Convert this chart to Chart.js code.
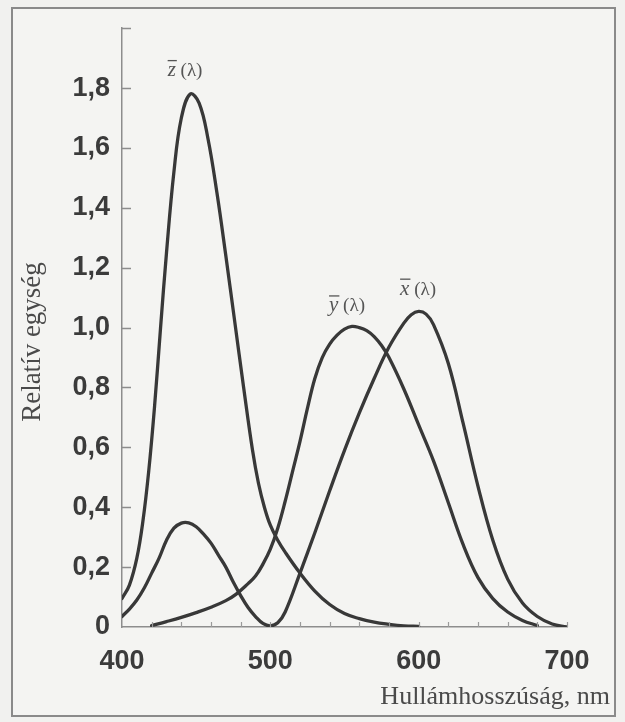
<!DOCTYPE html>
<html>
<head>
<meta charset="utf-8">
<script src="https://cdn.jsdelivr.net/npm/chart.js@4.4.1/dist/chart.umd.min.js"></script>
<style>
html,body{margin:0;padding:0;background:#f1f1ef;}
#wrap{position:relative;width:625px;height:722px;overflow:hidden;}
#frame{position:absolute;left:11px;top:7px;width:605px;height:710px;border:2px solid #8a8a8a;box-sizing:border-box;background:#f4f4f2;}
#c{position:absolute;left:0;top:0;}
</style>
</head>
<body>
<div id="wrap">
  <div id="frame"></div>
  <canvas id="c" width="625" height="722"></canvas>
</div>
<script>
// ---- data ----
const zNm  = [400,405,410,414,418,422,426,430,435,440,446,452,458,464,470,476,482,488,492,496,500,505,510,520,530,540,550,560,570,580,590,600];
const zVal = [0.095,0.14,0.23,0.35,0.52,0.74,1.0,1.25,1.52,1.70,1.78,1.75,1.63,1.45,1.24,1.02,0.80,0.59,0.48,0.40,0.34,0.29,0.25,0.18,0.12,0.075,0.045,0.028,0.016,0.009,0.004,0.002];

const yNm  = [420,430,440,450,460,470,477,485,490,495,500,505,510,515,520,525,530,535,540,545,550,555,560,565,570,575,580,590,600,610,620,630,640,650,660,670,680];
const yVal = [0.005,0.018,0.032,0.048,0.066,0.088,0.11,0.145,0.17,0.21,0.26,0.33,0.42,0.52,0.62,0.73,0.83,0.90,0.945,0.975,0.995,1.004,1.0,0.99,0.97,0.94,0.90,0.795,0.675,0.555,0.415,0.275,0.165,0.095,0.05,0.022,0.005];

const xNm  = [400,405,410,415,420,425,430,435,440,445,450,455,460,465,470,475,480,485,490,495,500,505,510,520,530,540,550,560,570,580,590,595,600,605,610,620,630,640,650,660,670,680,690,700];
const xVal = [0.035,0.06,0.09,0.13,0.18,0.23,0.29,0.33,0.347,0.348,0.335,0.31,0.28,0.24,0.20,0.15,0.105,0.065,0.035,0.012,0.004,0.014,0.05,0.18,0.315,0.455,0.59,0.715,0.83,0.935,1.015,1.043,1.054,1.045,1.01,0.88,0.68,0.47,0.29,0.16,0.08,0.035,0.01,0.0];

const xTickLabels = [400,500,600,700];
const yTickLabels = ['0','0,2','0,4','0,6','0,8','1,0','1,2','1,4','1,6','1,8'];
const curveNames = ['z','y','x'];
const curveLabelAt = [[442.5,1.85],[551.7,1.064],[599.6,1.12]];
const xTitle = 'Hullámhosszúság, nm';
const yTitle = 'Relatív egység';

// ---- chart ----
const ink = '#383838';
const toPts = (nm, v) => nm.map((n, i) => ({x: n, y: v[i]}));
const ds = (nm, v) => ({
  data: toPts(nm, v), borderColor: ink, borderWidth: 3.3, pointRadius: 0,
  tension: 0.4, fill: false, borderCapStyle: 'round', borderJoinStyle: 'round'
});

const decor = {
  id: 'decor',
  afterDatasetsDraw(chart) {
    const {ctx, scales: {x, y}, chartArea: a} = chart;
    ctx.save();
    // inner y ticks
    ctx.strokeStyle = '#8d8d8d'; ctx.lineWidth = 1.5;
    for (let i = 1; i <= 10; i++) {
      const py = Math.round(y.getPixelForValue(i * 0.2)) + 0.5;
      ctx.beginPath(); ctx.moveTo(a.left, py); ctx.lineTo(a.left + 9, py); ctx.stroke();
    }
    // inner x ticks every 20 nm
    ctx.lineWidth = 1.2; ctx.strokeStyle = '#9a9a9a';
    for (let n = 420; n <= 700; n += 20) {
      const px = Math.round(x.getPixelForValue(n)) + 0.5;
      ctx.beginPath(); ctx.moveTo(px, a.bottom); ctx.lineTo(px, a.bottom - 5); ctx.stroke();
    }
    // curve labels
    ctx.fillStyle = '#555';
    ctx.textBaseline = 'alphabetic';
    curveNames.forEach((nm, i) => {
      const cx = x.getPixelForValue(curveLabelAt[i][0]);
      const cy = y.getPixelForValue(curveLabelAt[i][1]);
      ctx.font = 'italic 21px "Liberation Serif"';
      const wl = ctx.measureText(nm).width;
      ctx.font = '19px "Liberation Serif"';
      const wp = ctx.measureText(' (λ)').width;
      const sx = cx - (wl + wp) / 2;
      const base = cy + 3;
      ctx.font = 'italic 21px "Liberation Serif"';
      ctx.fillText(nm, sx, base);
      ctx.font = '19px "Liberation Serif"';
      ctx.fillText(' (λ)', sx + wl, base);
      ctx.strokeStyle = '#555'; ctx.lineWidth = 1.3;
      ctx.beginPath(); ctx.moveTo(sx, base - 15.5); ctx.lineTo(sx + wl + 1, base - 15.5); ctx.stroke();
    });
    // axis titles
    ctx.font = '26px "Liberation Serif"';
    ctx.fillStyle = '#4a4a4a';
    ctx.textAlign = 'right';
    ctx.fillText(xTitle, 610, 704);
    ctx.save();
    ctx.translate(40, 342);
    ctx.rotate(-Math.PI / 2);
    ctx.textAlign = 'center';
    ctx.font = '27px "Liberation Serif"';
    ctx.fillText(yTitle, 0, 0);
    ctx.restore();
    ctx.restore();
  }
};

new Chart(document.getElementById('c'), {
  type: 'line',
  data: { datasets: [ds(zNm, zVal), ds(yNm, yVal), ds(xNm, xVal)] },
  options: {
    responsive: false, animation: false, devicePixelRatio: 1,
    layout: { padding: { top: 22, right: 58, left: 0, bottom: 0 } },
    plugins: { legend: { display: false }, tooltip: { enabled: false } },
    scales: {
      x: {
        type: 'linear', min: 400, max: 700,
        afterFit: s => { s.height = 95; },
        afterBuildTicks: s => { s.ticks = xTickLabels.map(v => ({value: v})); },
        grid: { display: false, drawTicks: false },
        border: { display: true, color: '#8d8d8d', width: 1.5 },
        ticks: { font: { family: '"Liberation Sans"', weight: 'bold', size: 27 }, color: '#3b3b3b', padding: 18, maxRotation: 0,
                 callback: v => String(v) }
      },
      y: {
        min: 0, max: 2,
        afterFit: s => { s.width = 122; },
        afterBuildTicks: s => { s.ticks = yTickLabels.map((t, i) => ({value: i * 0.2})); },
        grid: { display: false, drawTicks: false },
        border: { display: true, color: '#8d8d8d', width: 1.5 },
        ticks: { font: { family: '"Liberation Sans"', weight: 'bold', size: 27 }, color: '#3b3b3b', padding: 12,
                 callback: (v, i) => yTickLabels[i] }
      }
    }
  },
  plugins: [decor]
});
</script>
</body>
</html>
